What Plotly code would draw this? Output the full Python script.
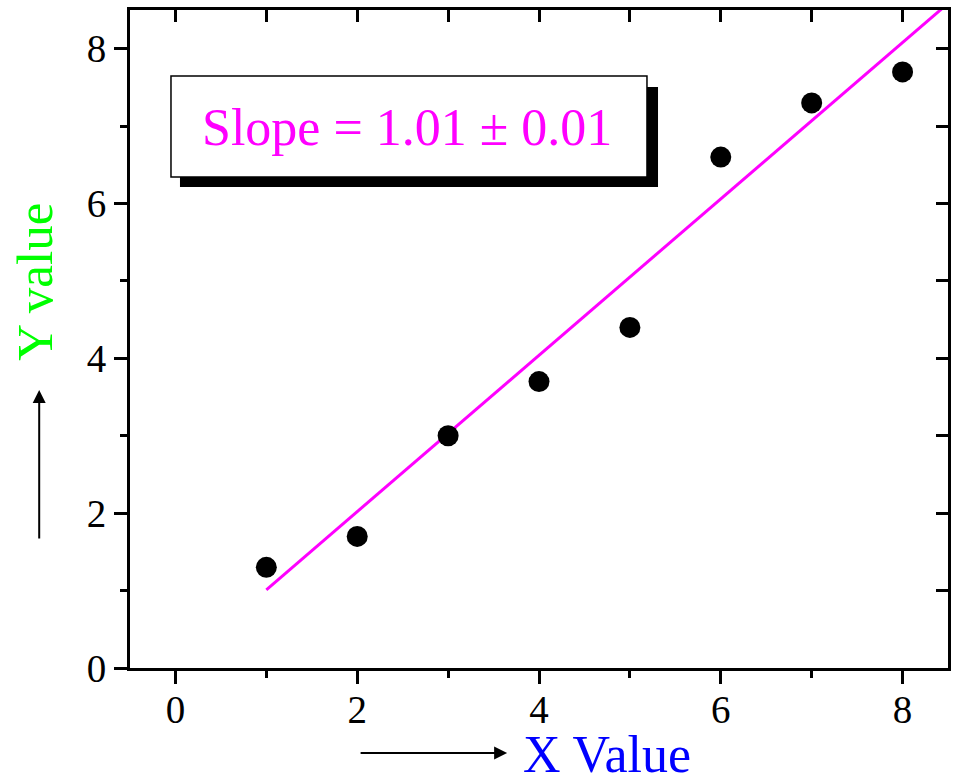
import plotly.graph_objects as go

# Data
x_data = [1, 2, 3, 4, 5, 6, 7, 8]
y_data = [1.3, 1.7, 3.0, 3.7, 4.4, 6.6, 7.3, 7.7]
fit_x = [1.0, 8.5]
fit_y = [1.01, 8.585]
x_ticks = [0, 2, 4, 6, 8]
y_ticks = [0, 2, 4, 6, 8]
slope_text = "Slope = 1.01 ± 0.01"

FONT = "Liberation Serif, Times New Roman, serif"

fig = go.Figure()
fig.add_trace(go.Scatter(x=fit_x, y=fit_y, mode="lines",
                         line=dict(color="#FF00FF", width=3), showlegend=False))
fig.add_trace(go.Scatter(x=x_data, y=y_data, mode="markers",
                         marker=dict(color="black", size=21), showlegend=False))
# dummy trace for the mirrored frame axes
fig.add_trace(go.Scatter(x=[], y=[], xaxis="x2", yaxis="y2", showlegend=False))

axis_common = dict(showgrid=False, zeroline=False, showline=True,
                   linecolor="black", linewidth=3, tickcolor="black",
                   tickwidth=3)

fig.update_layout(
    width=953, height=777,
    margin=dict(l=130, r=5, t=10, b=109),
    plot_bgcolor="white", paper_bgcolor="white",
    font=dict(family=FONT, color="black"),
    xaxis=dict(range=[-0.5, 8.5], tickvals=x_ticks, ticks="outside", ticklen=13,
               tickfont=dict(size=39, family=FONT), ticklabelstandoff=-8,
               minor=dict(dtick=1, tick0=0, ticks="outside", ticklen=7,
                          tickwidth=3, tickcolor="black"),
               **axis_common),
    yaxis=dict(range=[0, 8.5], tickvals=y_ticks, ticks="outside", ticklen=13,
               tickfont=dict(size=39, family=FONT),
               minor=dict(dtick=1, tick0=0, ticks="outside", ticklen=7,
                          tickwidth=3, tickcolor="black"),
               **axis_common),
    xaxis2=dict(overlaying="x", side="top", anchor="y", range=[-0.5, 8.5],
                dtick=1, tick0=0, ticks="inside", ticklen=12,
                showticklabels=False, **axis_common),
    yaxis2=dict(overlaying="y", side="right", anchor="x", range=[0, 8.5],
                dtick=1, tick0=0, ticks="inside", ticklen=12,
                showticklabels=False, **axis_common),
)

# Slope box with shadow
fig.add_shape(type="rect", xref="paper", yref="paper",
              x0=0.0611, x1=0.6455, y0=0.731, y1=0.883,
              fillcolor="black", line=dict(width=0))
fig.add_shape(type="rect", xref="paper", yref="paper",
              x0=0.0501, x1=0.632, y0=0.7462, y1=0.8997,
              fillcolor="white", line=dict(color="black", width=1.5))
fig.add_annotation(xref="paper", yref="paper", x=0.339, y=0.8207,
                   xanchor="center", yanchor="middle",
                   text=slope_text, showarrow=False,
                   font=dict(size=52, color="#FF00FF", family=FONT))

# Axis titles
fig.add_annotation(xref="paper", yref="paper", x=0.583, y=-0.131,
                   xanchor="center", yanchor="middle",
                   text="X Value", showarrow=False,
                   font=dict(size=52, color="#0000FF", family=FONT))
fig.add_annotation(xref="paper", yref="paper", x=-0.116, y=0.587,
                   xanchor="center", yanchor="middle",
                   text="Y value", showarrow=False, textangle=-90,
                   font=dict(size=51, color="#00FF00", family=FONT))

# Arrows
fig.add_annotation(xref="paper", yref="paper", x=0.461, y=-0.129,
                   ax=-148, ay=0, text="", showarrow=True,
                   arrowhead=2, arrowsize=1.3, arrowwidth=2, arrowcolor="black")
fig.add_annotation(xref="paper", yref="paper", x=-0.111, y=0.4225,
                   ax=0, ay=150, text="", showarrow=True,
                   arrowhead=2, arrowsize=1.3, arrowwidth=2, arrowcolor="black")

fig.write_html("out.html", config={"displayModeBar": False},
               post_script="document.body.style.margin='0';")
